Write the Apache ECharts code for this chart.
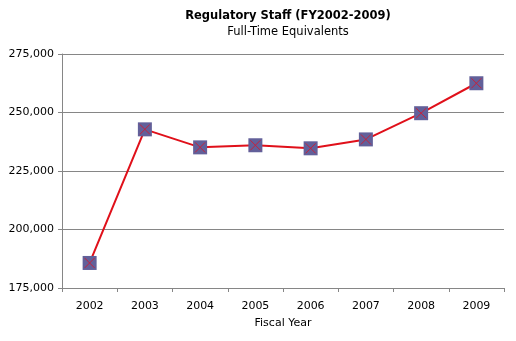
<!DOCTYPE html>
<html>
<head>
<meta charset="utf-8">
<script src="https://cdn.jsdelivr.net/npm/echarts@6/dist/echarts.min.js"></script>
<style>html,body{margin:0;padding:0;background:#fff}#c{width:516px;height:341px}</style>
</head>
<body>
<div id="c"></div>
<script>
const years = ['2002','2003','2004','2005','2006','2007','2008','2009'];
const staff = [185700, 242800, 235100, 236000, 234700, 238500, 249700, 262500];
const yTicks = [175000, 200000, 225000, 250000, 275000];

const font = 'DejaVu Sans';
const axisGray = '#868686';
const chart = echarts.init(document.getElementById('c'), null, {renderer: 'canvas'});
chart.setOption({
  animation: false,
  backgroundColor: '#ffffff',
  title: {
    text: 'Regulatory Staff (FY2002-2009)',
    subtext: 'Full-Time Equivalents',
    left: 283, top: 5, textAlign: 'center', itemGap: 4,
    textStyle: {fontFamily: font, fontSize: 11.5, fontWeight: 'bold', color: '#000'},
    subtextStyle: {fontFamily: font, fontSize: 11.5, color: '#000'}
  },
  grid: {left: 62, right: 12, top: 54, bottom: 53},
  xAxis: {
    type: 'category', data: years, boundaryGap: true,
    name: 'Fiscal Year', nameLocation: 'middle', nameGap: 30,
    nameTextStyle: {fontFamily: font, fontSize: 11, color: '#000'},
    axisLine: {lineStyle: {color: axisGray, width: 1}},
    axisTick: {show: true, alignWithLabel: false, length: 4, lineStyle: {color: axisGray}},
    axisLabel: {fontFamily: font, fontSize: 11, color: '#000', margin: 13}
  },
  yAxis: {
    type: 'value', min: yTicks[0], max: yTicks[yTicks.length-1], interval: 25000,
    axisLine: {show: true, lineStyle: {color: axisGray, width: 1}},
    axisTick: {show: true, length: 4, lineStyle: {color: axisGray}},
    splitLine: {show: true, lineStyle: {color: axisGray, width: 1}},
    axisLabel: {fontFamily: font, fontSize: 11, color: '#000', margin: 8,
      formatter: v => v.toLocaleString('en-US')}
  },
  series: [
    {
      type: 'line', data: staff, z: 2,
      lineStyle: {color: '#e0101a', width: 2},
      symbol: 'rect', symbolSize: 14,
      itemStyle: {color: '#62609a'}
    },
    {
      type: 'line', data: staff, z: 3,
      lineStyle: {width: 0, opacity: 0},
      symbol: 'path://M0,0 L10,10 M10,0 L0,10', symbolSize: 10,
      itemStyle: {color: 'none', borderColor: '#c8203a', borderWidth: 1}
    }
  ]
});
</script>
</body>
</html>
